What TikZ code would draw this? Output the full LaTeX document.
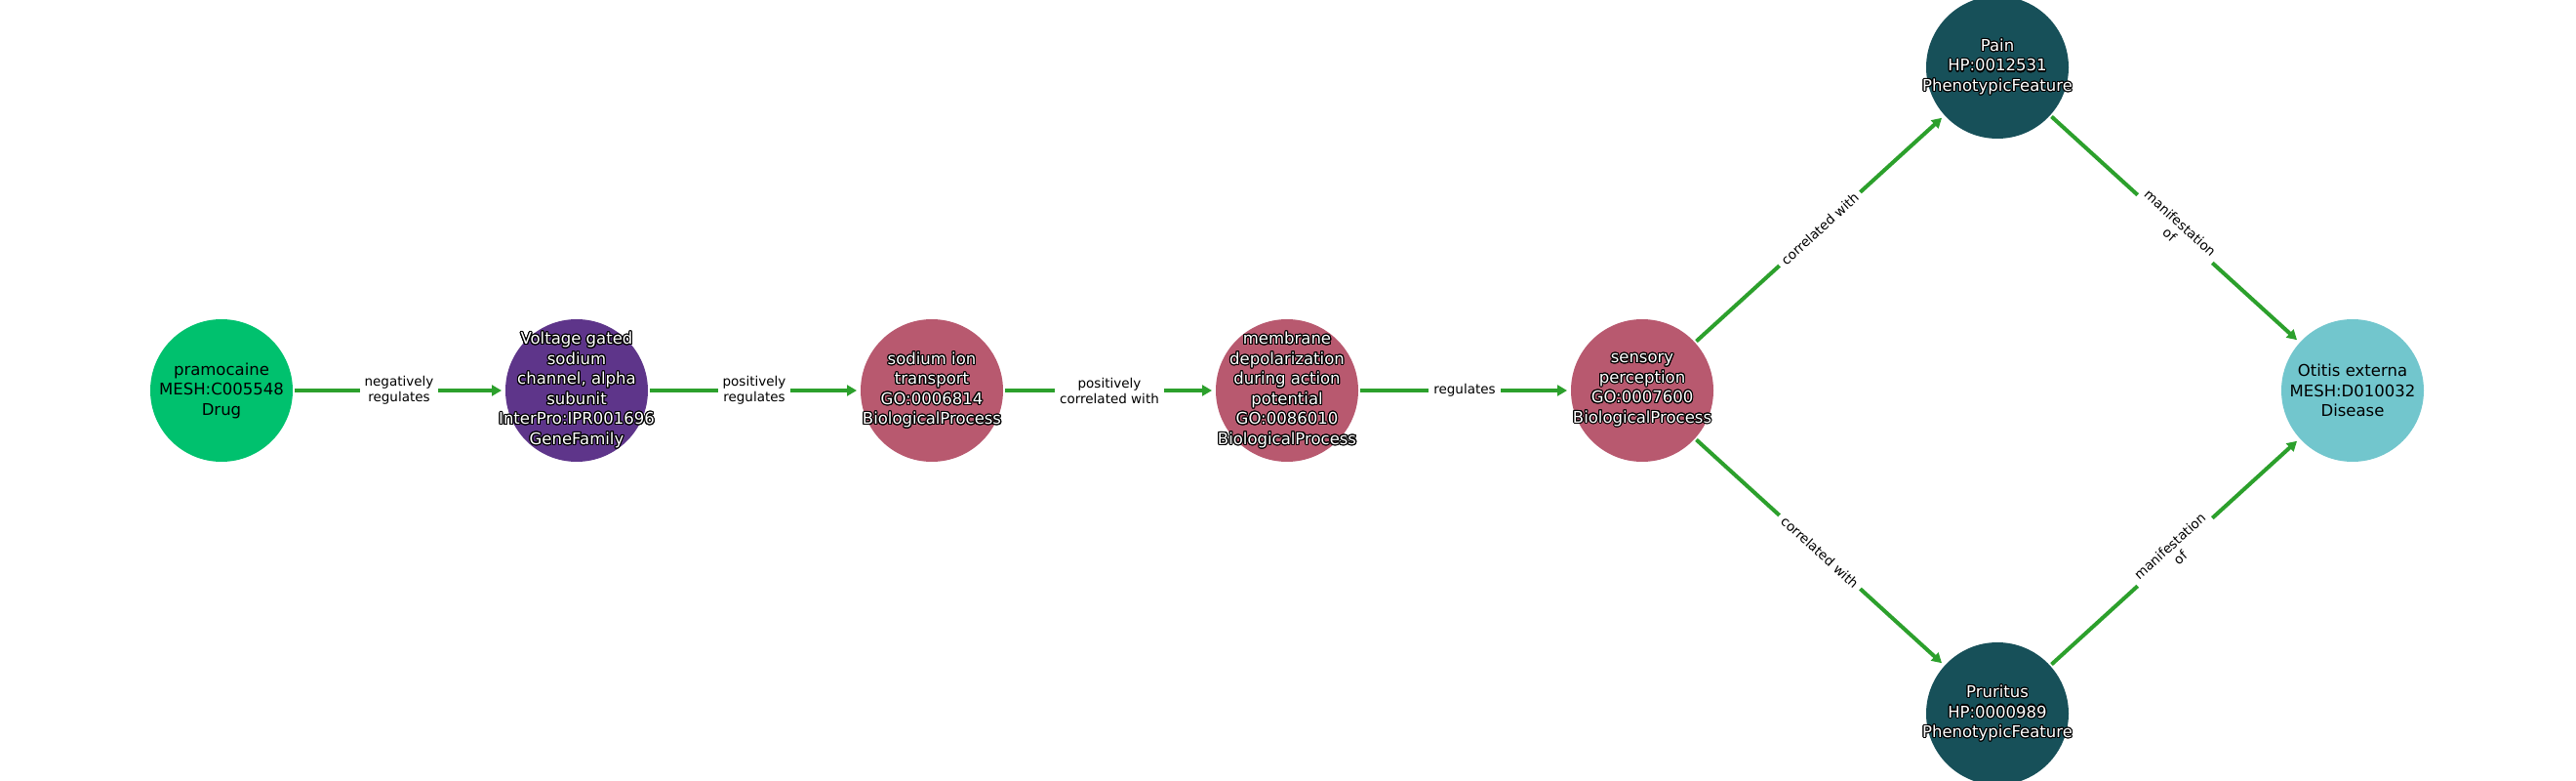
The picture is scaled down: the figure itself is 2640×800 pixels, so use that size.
\documentclass[tikz,border=0pt]{standalone}
\usepackage{fontspec}
\setmainfont{DejaVu Sans}
\usepackage{contour}
\usetikzlibrary{positioning, arrows.meta}

\definecolor{drugcol}{RGB}{0,193,110}
\definecolor{famcol}{RGB}{94,53,138}
\definecolor{proccol}{RGB}{184,89,111}
\definecolor{phencol}{RGB}{23,80,89}
\definecolor{discol}{RGB}{114,198,205}
\definecolor{relcol}{RGB}{44,160,44}

\contourlength{1.1pt}
\newcommand{\wt}[1]{\contour{black}{#1}}

\begin{document}
\begin{tikzpicture}[x=1pt, y=1pt, >={Triangle[length=10pt,width=11pt]}, shorten >=2pt, node distance=364pt, on grid, line width=4pt,
    ent/.style={circle, minimum size=146pt, inner sep=0pt},
    txt/.style={align=center, font=\fontsize{16.5}{20.5}\selectfont},
    drug/.style={ent, fill=drugcol},
    fam/.style={ent, fill=famcol},
    proc/.style={ent, fill=proccol},
    phen/.style={ent, fill=phencol},
    dis/.style={ent, fill=discol},
    rel/.style={fill=white, inner sep=5pt, align=center, text=black, font=\fontsize{13.5}{16}\selectfont}]
    \path[use as bounding box] (-227,-400) rectangle (2413,400);

    \node[drug] (pram) [label={[txt]center:{pramocaine\\MESH:C005548\\Drug}}] {};
    \node[fam] (chan) [right=of pram, label={[txt, text=white]center:{\wt{Voltage gated}\\\wt{sodium}\\\wt{channel, alpha}\\\wt{subunit}\\\wt{InterPro:IPR001696}\\\wt{GeneFamily}}}] {};
    \node[proc] (natr) [right=of chan, label={[txt, text=white]center:{\wt{sodium ion}\\\wt{transport}\\\wt{GO:0006814}\\\wt{BiologicalProcess}}}] {};
    \node[proc] (depol) [right=of natr, label={[txt, text=white]center:{\wt{membrane}\\\wt{depolarization}\\\wt{during action}\\\wt{potential}\\\wt{GO:0086010}\\\wt{BiologicalProcess}}}] {};
    \node[proc] (sens) [right=of depol, label={[txt, text=white]center:{\wt{sensory}\\\wt{perception}\\\wt{GO:0007600}\\\wt{BiologicalProcess}}}] {};
    \node[phen] (pain) [above right=331pt and 364pt of sens, label={[txt, text=white]center:{\wt{Pain}\\\wt{HP:0012531}\\\wt{PhenotypicFeature}}}] {};
    \node[phen] (prur) [below right=331pt and 364pt of sens, label={[txt, text=white]center:{\wt{Pruritus}\\\wt{HP:0000989}\\\wt{PhenotypicFeature}}}] {};
    \node[dis] (otit) [right=728pt of sens, label={[txt]center:{Otitis externa\\MESH:D010032\\Disease}}] {};

    \path[->, relcol]
    (pram) edge node[rel] {negatively\\regulates} (chan)
    (chan) edge node[rel] {positively\\regulates} (natr)
    (natr) edge node[rel] {positively\\correlated with} (depol)
    (depol) edge node[rel] {regulates} (sens)
    (sens) edge node[rel, sloped] {correlated with} (pain)
    (sens) edge node[rel, sloped] {correlated with} (prur)
    (pain) edge node[rel, sloped] {manifestation\\of} (otit)
    (prur) edge node[rel, sloped] {manifestation\\of} (otit);
\end{tikzpicture}
\end{document}
